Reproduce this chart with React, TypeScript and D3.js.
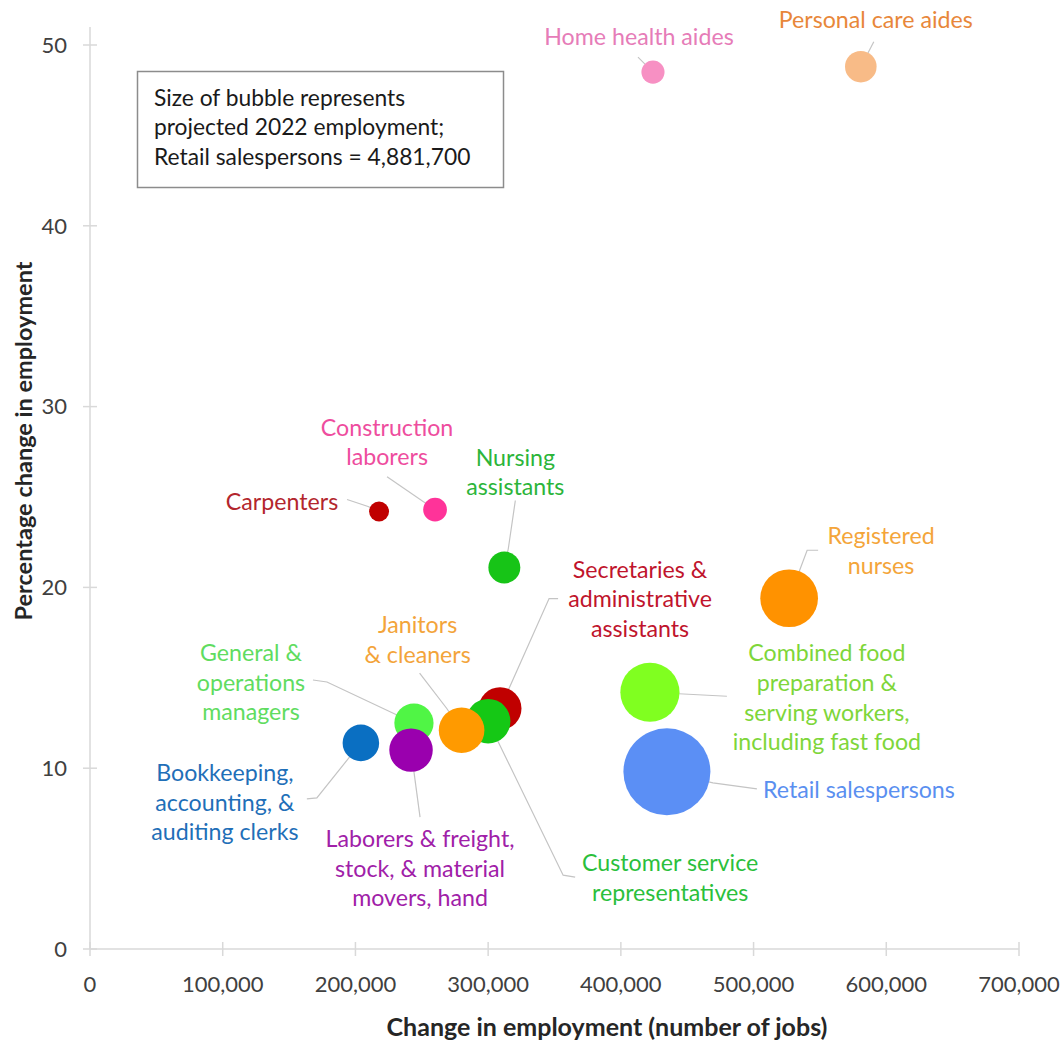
import React from "react";
import * as d3 from "d3";

// ---------- data ----------
const occupations = [
  "Personal care aides",
  "Home health aides",
  "Carpenters",
  "Construction laborers",
  "Nursing assistants",
  "Registered nurses",
  "Secretaries & administrative assistants",
  "Customer service representatives",
  "Janitors & cleaners",
  "General & operations managers",
  "Laborers & freight, stock, & material movers, hand",
  "Bookkeeping, accounting, & auditing clerks",
  "Combined food preparation & serving workers, including fast food",
  "Retail salespersons",
];
const jobChange = [580800, 424200, 217800, 260000, 312200, 526800, 309000, 300000, 280000, 244100, 241900, 204100, 421900, 434700];
const pctChange = [48.8, 48.5, 24.2, 24.3, 21.1, 19.4, 13.3, 12.6, 12.1, 12.5, 11.0, 11.4, 14.2, 9.8];
const employment2022 = [1771400, 1299300, 1119400, 1331000, 1792000, 3238400, 2400000, 2500000, 2560000, 2200000, 2440000, 2050000, 3320000, 4881700];
const labelLines = [
  ["Personal care aides"],
  ["Home health aides"],
  ["Carpenters"],
  ["Construction", "laborers"],
  ["Nursing", "assistants"],
  ["Registered", "nurses"],
  ["Secretaries &", "administrative", "assistants"],
  ["Customer service", "representatives"],
  ["Janitors", "& cleaners"],
  ["General &", "operations", "managers"],
  ["Laborers & freight,", "stock, & material", "movers, hand"],
  ["Bookkeeping,", "accounting, &", "auditing clerks"],
  ["Combined food", "preparation &", "serving workers,", "including fast food"],
  ["Retail salespersons"],
];
const xTicks = [0, 100000, 200000, 300000, 400000, 500000, 600000, 700000];
const yTicks = [0, 10, 20, 30, 40, 50];
const noteLines = ["Size of bubble represents", "projected 2022 employment;", "Retail salespersons = 4,881,700"];
const xTitle = "Change in employment (number of jobs)";
const yTitle = "Percentage change in employment";

// ---------- styles / layout ----------
const bubbleColors = ["#f8bb87", "#f790c3", "#c00000", "#ff3399", "#17c417", "#ff9200", "#c00000", "#15c815", "#ff9a00", "#50f545", "#9a00ae", "#0a6fc2", "#80ff20", "#5b8ff5"];
const labelColors = ["#e8873a", "#e67cb8", "#b3262d", "#ee4d9e", "#2cb53a", "#f4a53a", "#c0142c", "#2bbf3c", "#f3a43a", "#60dc60", "#a020a8", "#1f6fb8", "#7ed63a", "#5a8ff0"];
// label position (centre of first line) relative to bubble centre, in px
const labelOffsets: [number, number][] = [
  [15, -47], [-14, -35], [-97, -10], [-48, -82], [11, -110], [92, -62], [140, -139],
  [182, 142], [-44, -105], [-163, -70], [9, 89], [-136, 30], [177, -39], [192, 18],
];
// leader polylines relative to bubble centre (ending at centre)
const leaderOffsets: [number, number][][] = [
  [[13, -25], [0, 0]],
  [[-15, -15], [0, 0]],
  [[-32, -12], [-11, -5], [0, 0]],
  [[-48, -33], [0, 0]],
  [[11, -67], [4, -19], [0, 0]],
  [[29, -48], [18, -48], [0, 0]],
  [[58, -110], [49, -110], [0, 0]],
  [[87, 156], [75, 154], [0, 0]],
  [[-42, -57], [-15, -22], [0, 0]],
  [[-101, -43], [-87, -41], [0, 0]],
  [[9, 67], [0, 0]],
  [[-54, 56], [-44, 55], [0, 0]],
  [[77, 4], [0, 0]],
  [[90, 17], [46, 11], [0, 0]],
];

const W = 1064;
const H = 1041;
const FONT = "Lato, 'Noto Sans', sans-serif";
const LINE_H = 29.6;

export default function App() {
  const x = d3.scaleLinear().domain([0, 700000]).range([90, 1019]);
  const y = d3.scaleLinear().domain([0, 50]).range([949, 45]);
  const r = d3.scaleLinear().domain([0, 4881700]).range([0, 43.5]);
  const fmt = d3.format(",");
  const axisColor = "#d9d9d9";
  const line = d3.line();

  const pts = occupations.map((name, i) => ({
    name,
    cx: x(jobChange[i]),
    cy: y(pctChange[i]),
    rad: r(employment2022[i]),
    i,
  }));

  return (
    <svg width={W} height={H} style={{ position: "absolute", left: 0, top: 0, background: "#fff" }} fontFamily={FONT}>
      <rect width={W} height={H} fill="#fff" />
      {/* axes */}
      <line x1={x(0)} x2={x(0)} y1={y(51)} y2={y(0)} stroke={axisColor} strokeWidth={1.5} />
      <line x1={x(0)} x2={x(700000)} y1={y(0)} y2={y(0)} stroke={axisColor} strokeWidth={1.5} />
      {yTicks.map((t) => (
        <g key={"y" + t}>
          <line x1={x(0) - 7} x2={x(0) + 7} y1={y(t)} y2={y(t)} stroke={axisColor} strokeWidth={1.5} />
          <text x={67} y={y(t)} dy="0.35em" textAnchor="end" fontSize={22} fill="#404040">
            {t}
          </text>
        </g>
      ))}
      {xTicks.map((t) => (
        <g key={"x" + t}>
          <line x1={x(t)} x2={x(t)} y1={y(0) - 7} y2={y(0) + 7} stroke={axisColor} strokeWidth={1.5} />
          <text x={x(t)} y={984} dy="0.35em" textAnchor="middle" fontSize={22} fill="#404040">
            {fmt(t)}
          </text>
        </g>
      ))}
      <text x={607} y={1027} dy="0.35em" textAnchor="middle" fontSize={25} fontWeight="bold" fill="#262626">
        {xTitle}
      </text>
      <text transform={`translate(24,441) rotate(-90)`} dy="0.35em" textAnchor="middle" fontSize={23.5} fontWeight="bold" fill="#262626">
        {yTitle}
      </text>

      {/* note box */}
      <rect x={137.5} y={71.5} width={366} height={116} fill="#fff" stroke="#8c8c8c" strokeWidth={1.5} />
      {noteLines.map((l, k) => (
        <text key={k} x={154} y={98 + k * 29.5} dy="0.35em" fontSize={22.8} fill="#1a1a1a">
          {l}
        </text>
      ))}

      {/* leader lines */}
      {pts.map((p) => (
        <path
          key={"l" + p.i}
          d={line(leaderOffsets[p.i].map(([dx, dy]) => [p.cx + dx, p.cy + dy])) || ""}
          fill="none"
          stroke="#c4c4c4"
          strokeWidth={1.2}
        />
      ))}

      {/* bubbles */}
      {pts.map((p) => (
        <circle key={"c" + p.i} cx={p.cx} cy={p.cy} r={p.rad} fill={bubbleColors[p.i]} />
      ))}

      {/* labels */}
      {pts.map((p) => (
        <text key={"t" + p.i} textAnchor="middle" fontSize={23.2} fill={labelColors[p.i]}>
          {labelLines[p.i].map((ln, k) => (
            <tspan key={k} x={p.cx + labelOffsets[p.i][0]} y={p.cy + labelOffsets[p.i][1] + k * LINE_H} dy="0.35em">
              {ln}
            </tspan>
          ))}
        </text>
      ))}
    </svg>
  );
}
